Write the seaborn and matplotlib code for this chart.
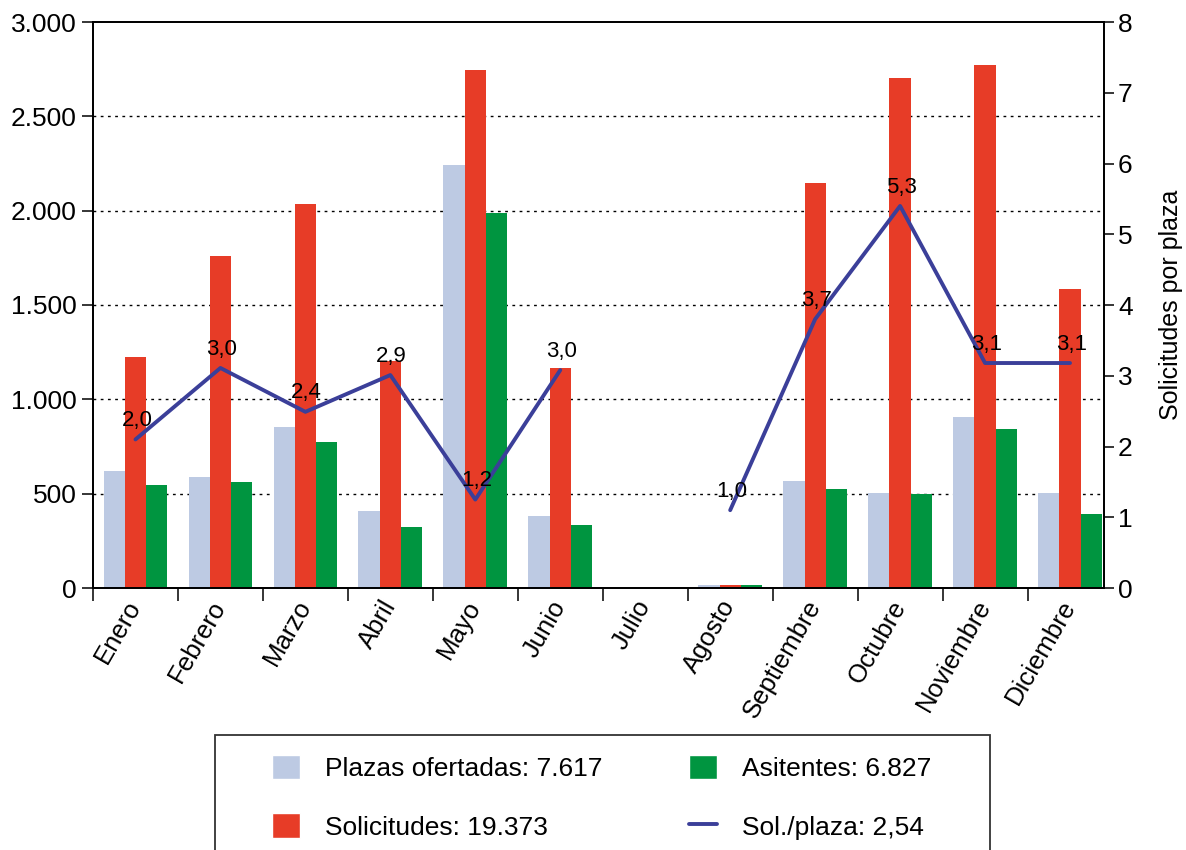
import numpy as np
import pandas as pd
import matplotlib
matplotlib.use("Agg")
import matplotlib.pyplot as plt
import matplotlib.transforms as mtransforms
from matplotlib.patches import Patch, Rectangle
from matplotlib.lines import Line2D
from matplotlib.ticker import FuncFormatter
import seaborn as sns

meses = ["Enero", "Febrero", "Marzo", "Abril", "Mayo", "Junio", "Julio",
         "Agosto", "Septiembre", "Octubre", "Noviembre", "Diciembre"]
plazas = [619, 587, 853, 406, 2243, 381, 0, 18, 568, 503, 907, 503]
solicitudes = [1226, 1760, 2037, 1204, 2746, 1167, 0, 18, 2147, 2704, 2774, 1585]
asistentes = [544, 560, 773, 321, 1989, 334, 0, 18, 525, 498, 842, 393]
sol_plaza = [2.10, 3.11, 2.49, 3.01, 1.25, 3.08, np.nan, 1.10, 3.80, 5.40, 3.18, 3.18]
etiquetas = ["2,0", "3,0", "2,4", "2,9", "1,2", "3,0", "", "1,0", "3,7", "5,3", "3,1", "3,1"]
tramo = [0, 0, 0, 0, 0, 0, 0, 1, 1, 1, 1, 1]

series = ["Plazas ofertadas: 7.617", "Solicitudes: 19.373", "Asitentes: 6.827"]
linea_label = "Sol./plaza: 2,54"
colores = ["#BDCAE3", "#E73C27", "#009540"]
color_linea = "#3B3F99"

sns.set_theme(style="ticks")
plt.rcParams["font.family"] = ["Liberation Sans", "DejaVu Sans"]
plt.rcParams["text.color"] = "black"
plt.rcParams["axes.labelcolor"] = "black"
plt.rcParams["xtick.color"] = "black"
plt.rcParams["ytick.color"] = "black"
plt.rcParams["axes.edgecolor"] = "black"

df = pd.DataFrame({
    "mes": meses * 3,
    "valor": plazas + solicitudes + asistentes,
    "serie": [series[0]] * 12 + [series[1]] * 12 + [series[2]] * 12,
})
df_line = pd.DataFrame({"pos": np.arange(12), "ratio": sol_plaza, "tramo": tramo})

W, H = 1186, 850
fig = plt.figure(figsize=(W / 100, H / 100), dpi=100)
ax = fig.add_axes([93 / W, 1 - 588 / H, (1104 - 93) / W, (588 - 22) / H])

sns.barplot(data=df, x="mes", y="valor", hue="serie", order=meses, hue_order=series,
            palette=colores, saturation=1, width=0.75, errorbar=None, legend=False,
            linewidth=0, edgecolor="none", ax=ax)

ax.set_xlim(-0.5, 11.4)
ax.set_ylim(0, 3000)
ax.set_yticks(np.arange(0, 3001, 500))
ax.yaxis.set_major_formatter(FuncFormatter(lambda v, p: f"{int(v):,}".replace(",", ".")))
ax.set_xlabel("")
ax.set_ylabel("")
for yv in range(500, 3000, 500):
    ax.axhline(yv, color="black", lw=1.0, ls=(0, (2, 3.2)), zorder=0)

ax.set_xticks(np.arange(12))
ax.set_xticklabels(meses, rotation=60, ha="right", va="center", rotation_mode="anchor",
                   fontsize=18.5)
offset = mtransforms.ScaledTranslation(18 / 100, -2 / 100, fig.dpi_scale_trans)
for lab in ax.get_xticklabels():
    lab.set_transform(lab.get_transform() + offset)
ax.tick_params(axis="x", which="major", length=0, pad=10)
ax.set_xticks(np.arange(-0.5, 11, 1), minor=True)
ax.tick_params(axis="x", which="minor", length=9, width=1.1, color="black", direction="out")
ax.tick_params(axis="y", labelsize=19, length=8, width=1.1, color="black", pad=4)

for s in ax.spines.values():
    s.set_color("black")
    s.set_linewidth(1.3)

ax2 = ax.twinx()
sns.lineplot(data=df_line, x="pos", y="ratio", units="tramo", estimator=None,
             color=color_linea, lw=2.8, ax=ax2, legend=False)
ax2.set_ylim(0, 8)
ax2.set_yticks(np.arange(0, 9, 1))
ax2.tick_params(axis="y", labelsize=19, length=7, width=1.1, color="black", pad=3)
ax2.set_ylabel("Solicitudes por plaza", fontsize=18, labelpad=19)
ax2.set_xlim(-0.5, 11.4)
for s in ax2.spines.values():
    s.set_color("black")
    s.set_linewidth(1.3)

for i, (v, t) in enumerate(zip(sol_plaza, etiquetas)):
    if t:
        ax2.annotate(t, (i, v), xytext=(1, 6), textcoords="offset points",
                     ha="center", va="bottom", fontsize=16, color="black")

handles = [Patch(facecolor=colores[0]), Patch(facecolor=colores[1]),
           Patch(facecolor=colores[2]), Line2D([0], [0], color=color_linea, lw=2.8)]
labels = [series[0], series[1], series[2], linea_label]
fig.legend(handles, labels, ncol=2, loc="upper left",
           bbox_to_anchor=(272 / W, 1 - 755 / H), frameon=False, fontsize=19,
           handlelength=1.05, handleheight=1.05, handletextpad=0.95,
           columnspacing=3.3, labelspacing=1.22, borderpad=0, borderaxespad=0)
fig.patches.append(Rectangle((215 / W, -0.05), (990 - 215) / W, 0.05 + (850 - 735) / H,
                             transform=fig.transFigure, fill=False, edgecolor="#333333",
                             lw=1.3))

fig.savefig("out.png", dpi=100)
